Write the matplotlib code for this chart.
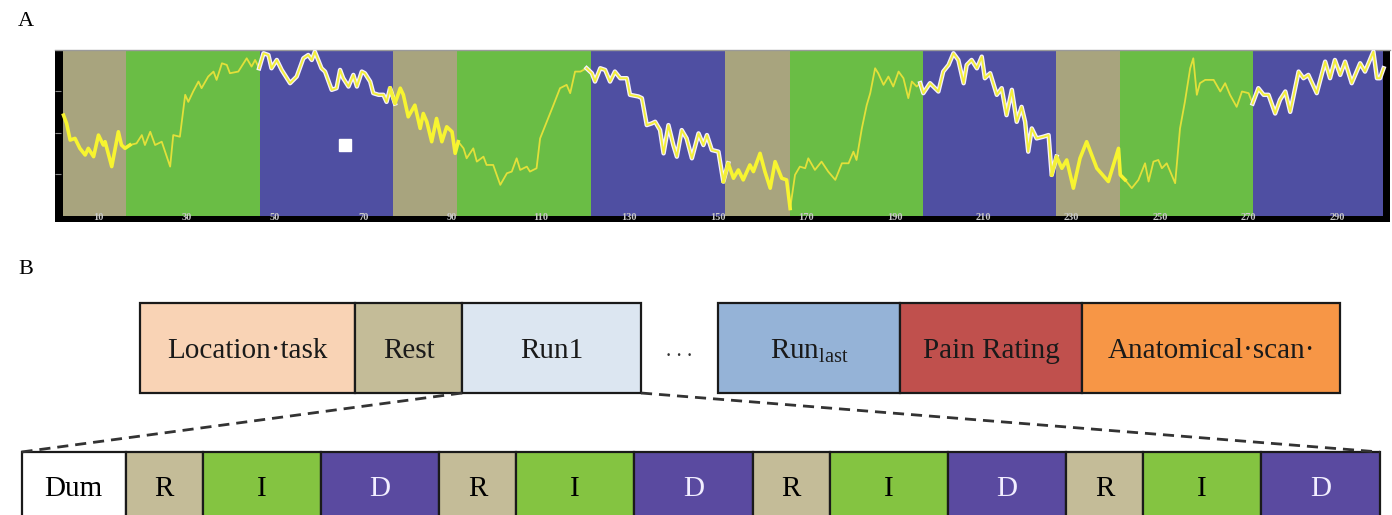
"""Block-design fMRI figure: (A) BOLD time course over R/I/D blocks, (B) session layout."""

import matplotlib

matplotlib.use("Agg")
import matplotlib.pyplot as plt
import numpy as np
from matplotlib.patches import Rectangle

plt.rcParams["font.family"] = ["Liberation Serif", "DejaVu Serif"]
plt.rcParams["mathtext.fontset"] = "custom"
plt.rcParams["mathtext.rm"] = "Liberation Serif"
plt.rcParams["mathtext.it"] = "Liberation Serif:italic"

# ---- panel A data -------------------------------------------------------
block_kinds = ["R", "I", "D"] * 4
block_edges = [2.1, 16.3, 46.5, 76.7, 91.2, 121.4, 151.6, 166.3, 196.4, 226.5, 241.0, 271.0, 300.3]
tick_scans = [10, 30, 50, 70, 90, 110, 130, 150, 170, 190, 210, 230, 250, 270, 290]

scan = [
    2.2, 2.9, 3.7, 4.8, 5.9, 7.1, 7.8, 9.0, 10.1, 11.2, 11.6, 13.1, 14.6, 15.3, 16.1,
    17.2, 18.7, 19.9, 20.6, 21.8, 22.9, 24.4, 26.3, 27.0, 28.5, 29.7, 30.4, 31.5, 32.7, 33.4,
    34.9, 36.1, 36.8, 38.0, 39.1, 39.8, 41.7, 43.6, 44.7, 45.5, 46.4, 47.4, 48.5, 49.2, 50.4,
    51.5, 53.4, 54.9, 56.4, 57.5, 58.3, 59.0, 60.5,
    61.3, 62.8, 63.9, 64.7, 65.4, 66.6, 67.7, 68.5, 69.6, 70.3, 71.5, 72.2, 73.4, 74.5, 75.2,
    76.0, 77.1, 78.3, 79.0, 80.1, 81.6, 82.8, 83.5, 84.3, 85.4, 86.5, 87.7, 88.8, 90.0, 90.7,
    91.4, 92.6, 93.3, 94.8, 95.6, 97.1, 97.8, 99.3, 100.9, 102.4, 103.5, 104.6, 105.4, 106.9,
    107.6, 109.1, 109.9, 111.4, 112.9, 114.4, 115.9, 116.7, 117.8, 119.0, 120.4,
    121.6, 122.3, 123.5, 124.6, 125.7, 126.8, 128.0, 129.5, 130.2, 132.1, 132.9, 134.0, 135.1,
    135.9, 137.0, 137.8, 138.9, 140.0, 140.8, 141.9, 143.0, 144.2, 145.7, 146.8, 147.6, 148.7,
    150.2, 151.3, 152.4, 153.6, 154.7, 155.8, 157.3, 158.1, 159.6, 160.7, 161.9, 163.0, 164.5,
    165.6, 166.4, 167.5, 168.6, 169.8, 170.5, 172.0, 173.5, 175.0, 176.6, 178.1, 179.6,
    180.7, 181.4, 182.6, 183.7, 184.5, 185.6, 186.3, 187.5, 188.6, 189.7, 190.9, 192.0, 193.1,
    193.9, 195.0, 195.8, 196.5, 198.0, 199.9, 201.0, 202.2, 203.3, 204.4, 205.6, 206.3, 207.4,
    208.6, 209.7, 210.4, 211.6, 213.1, 214.2, 215.3, 216.5, 217.6, 218.7, 219.5, 220.2, 221.0,
    222.1, 223.6, 224.8, 225.5, 226.6, 227.8, 228.9, 230.4, 231.9, 233.4, 235.7, 238.3, 239.8,
    240.6, 241.0, 242.1, 243.6, 245.1, 246.6, 247.4, 248.5, 249.6, 250.4, 251.5, 253.4, 254.5,
    255.6, 256.8, 257.5, 258.3, 259.0, 260.2, 262.1, 263.6, 264.7, 265.8, 267.3, 268.5, 270.0,
    270.9, 272.2, 273.4, 274.5, 276.0, 277.1, 278.3, 279.4, 281.3, 282.4, 283.5, 285.4, 287.3,
    288.4, 289.5, 290.7, 291.8, 293.3, 295.2, 296.3, 298.2, 299.0, 299.7, 300.5,
]
signal = [
    2.43, 2.23, 1.83, 1.87, 1.63, 1.47, 1.63, 1.43, 1.95, 1.71, 1.79, 1.19, 2.03, 1.71, 1.63,
    1.71, 1.75, 1.95, 1.71, 2.03, 1.71, 1.79, 1.19, 1.95, 1.91, 2.92, 2.75, 3.00, 3.24, 3.08,
    3.36, 3.48, 3.28, 3.68, 3.64, 3.44, 3.48, 3.80, 3.60, 3.76, 3.56, 3.92, 3.88, 3.56, 3.76,
    3.52, 3.20, 3.36, 3.80, 3.88, 3.76, 3.96, 3.56,
    3.48, 3.04, 3.08, 3.52, 3.32, 3.12, 3.40, 3.12, 3.48, 3.44, 3.24, 2.96, 2.92, 2.92, 2.75,
    3.08, 2.71, 3.08, 2.92, 2.39, 2.67, 2.11, 2.47, 2.27, 1.79, 2.35, 1.79, 2.15, 2.03, 1.51,
    1.79, 1.63, 1.39, 1.63, 1.31, 1.43, 1.23, 1.23, 0.75, 1.03, 1.07, 1.39, 1.11, 1.19,
    1.07, 1.15, 1.87, 2.27, 2.67, 3.08, 3.16, 2.96, 3.48, 3.48, 3.56,
    3.44, 3.24, 3.56, 3.52, 3.24, 3.48, 3.32, 3.32, 2.92, 2.88, 2.84, 2.19, 2.23,
    2.27, 2.07, 1.51, 2.19, 1.71, 1.43, 2.07, 1.87, 1.39, 1.99, 1.71, 1.95, 1.59,
    1.55, 0.83, 1.27, 0.91, 1.11, 0.87, 1.23, 1.07, 1.51, 1.07, 0.67, 1.31, 0.91,
    0.87, 0.18, 0.99, 1.19, 1.15, 1.39, 1.11, 1.31, 1.07, 0.87, 1.27, 1.27,
    1.55, 1.35, 2.11, 2.67, 2.96, 3.56, 3.44, 3.16, 3.36, 3.12, 3.48, 3.32, 2.84,
    3.24, 3.12, 3.20, 2.96, 3.20, 3.00, 3.48, 3.64, 3.92, 3.76, 3.20, 3.64, 3.76,
    3.56, 3.84, 3.32, 3.44, 2.92, 3.08, 2.43, 3.04, 2.27, 2.63, 2.27, 1.55, 2.11,
    1.87, 1.91, 1.95, 0.99, 1.43, 1.15, 1.35, 0.67, 1.39, 1.79, 1.15, 0.83, 1.35,
    1.63, 0.99, 0.87, 0.67, 0.87, 1.27, 0.83, 1.31, 1.35, 1.15, 1.27, 0.79, 2.11,
    2.75, 3.56, 3.80, 2.92, 3.20, 3.28, 3.28, 3.00, 3.20, 2.92, 2.63, 3.00, 2.96,
    2.71, 3.08, 2.92, 2.92, 2.47, 2.80, 3.00, 2.51, 3.48, 3.32, 3.40, 2.96, 3.72,
    3.32, 3.76, 3.40, 3.72, 3.20, 3.68, 3.48, 3.96, 3.32, 3.32, 3.56,
]
marker_scan, marker_value = 65.8, 1.71

# ---- panel B data -------------------------------------------------------
session_left = ["Location\u00b7task", "Rest", "Run1"]
session_left_widths = [215, 107, 179]
session_left_colors = ["#F9D3B5", "#C4BC98", "#DCE6F1"]
session_right = ["Run$_{\\mathrm{last}}$", "Pain Rating", "Anatomical\u00b7scan\u00b7"]
session_right_widths = [182, 182, 258]
session_right_colors = ["#95B3D7", "#C0504D", "#F79646"]
run_blocks = ["Dum"] + ["R", "I", "D"] * 4
run_widths = [104] + [77, 118, 118.5] * 4

BLOCK_COLORS_A = {"R": "#A8A47E", "I": "#6ABD45", "D": "#4F4FA2"}
BLOCK_COLORS_B = {"Dum": "#FFFFFF", "R": "#C4BC98", "I": "#84C441", "D": "#5A4AA0"}
TEXT_COLORS_B = {"Dum": "black", "R": "black", "I": "black", "D": "#F2EEFF"}

W, H = 1392, 515
fig = plt.figure(figsize=(W / 100, H / 100), dpi=100)

# ---- panel A ------------------------------------------------------------
ax = fig.add_axes([55 / W, 1 - 222 / H, 1335 / W, 172 / H])
ax.set_facecolor("black")
edges = np.array(block_edges)
ax.bar(edges[:-1], 4.0, width=np.diff(edges), bottom=0, align="edge",
       color=[BLOCK_COLORS_A[k] for k in block_kinds], linewidth=0, zorder=1)

x = np.array(scan)
y = np.array(signal)
ax.plot(x, y, color="#E2E03A", linewidth=1.3, zorder=3)
for kind, start, end in zip(block_kinds, edges[:-1], edges[1:]):
    idx = np.flatnonzero((x >= start) & (x <= end))
    lo, hi = max(idx[0] - 1, 0), min(idx[-1] + 2, len(x))
    seg_x, seg_y = x[lo:hi], y[lo:hi]
    if kind == "D":
        ax.plot(seg_x, seg_y, color="#F6F0FF", linewidth=3.2, zorder=4)
        ax.plot(seg_x, seg_y, color="#F2EE3C", linewidth=1.4, zorder=5)
    elif kind == "R":
        ax.plot(seg_x, seg_y, color="#F7F430", linewidth=2.6, zorder=4)
ax.plot(marker_scan, marker_value, "s", color="white", markersize=9, zorder=6)

ax.set_xlim(0.28, 301.95)
ax.set_ylim(-0.145, 4.0)
ax.set_xticks(tick_scans)
ax.set_xticklabels([str(t) for t in tick_scans])
ax.tick_params(axis="x", direction="in", length=0, pad=-6.5, labelsize=7.5,
               labelcolor="#C8C8C8")
for label in ax.get_xticklabels():
    label.set_fontweight("bold")
ax.set_yticks([1, 2, 3])
ax.set_yticklabels([])
ax.tick_params(axis="y", direction="in", length=4, color="#8A8A8A", width=0.8)
for side in ("left", "right", "bottom"):
    ax.spines[side].set_visible(False)
ax.spines["top"].set_color("#9A9A9A")
ax.spines["top"].set_linewidth(1.0)

# ---- panel B ------------------------------------------------------------
axb = fig.add_axes([0, 0, 1, 265 / H])
axb.set_xlim(0, W)
axb.set_ylim(H, 250)
axb.axis("off")

top_y, top_h = 303, 90
run_y = 452


def draw_row(left, labels, widths, colors, text_colors, y0, height, text_y):
    pos = left
    spans = []
    for label, width, color, tcolor in zip(labels, widths, colors, text_colors):
        axb.add_patch(Rectangle((pos, y0), width, height, facecolor=color,
                                edgecolor="#1A1A1A", linewidth=1.6))
        axb.text(pos + width / 2, text_y, label, ha="center", va="center",
                 fontsize=21, color=tcolor)
        spans.append((pos, pos + width))
        pos += width
    return spans


left_spans = draw_row(140, session_left, session_left_widths, session_left_colors,
                      ["#1A1A1A"] * 3, top_y, top_h, top_y + top_h / 2 + 3)
right_spans = draw_row(718, session_right, session_right_widths, session_right_colors,
                       ["#1A1A1A"] * 3, top_y, top_h, top_y + top_h / 2 + 3)
run_spans = draw_row(21.5, run_blocks, run_widths,
                     [BLOCK_COLORS_B[b] for b in run_blocks],
                     [TEXT_COLORS_B[b] for b in run_blocks], run_y, 80, 489)

gap_mid = (left_spans[-1][1] + right_spans[0][0]) / 2
axb.text(gap_mid, top_y + top_h / 2 + 3, ". . .", ha="center", va="center", fontsize=15,
         color="#333333")

run1_left, run1_right = left_spans[-1]
bottom = top_y + top_h
axb.plot([run1_left, run_spans[0][0]], [bottom, run_y], linestyle=(0, (4, 2.5)),
         color="#333333", linewidth=2)
axb.plot([run1_right, run_spans[-1][1]], [bottom, run_y], linestyle=(0, (4, 2.5)),
         color="#333333", linewidth=2)

fig.text(18 / W, 1 - 22 / H, "A", fontsize=16, ha="left", va="center")
fig.text(18 / W, 1 - 270 / H, "B", fontsize=16, ha="left", va="center")

fig.savefig("out.png", dpi=100)
plt.close(fig)
